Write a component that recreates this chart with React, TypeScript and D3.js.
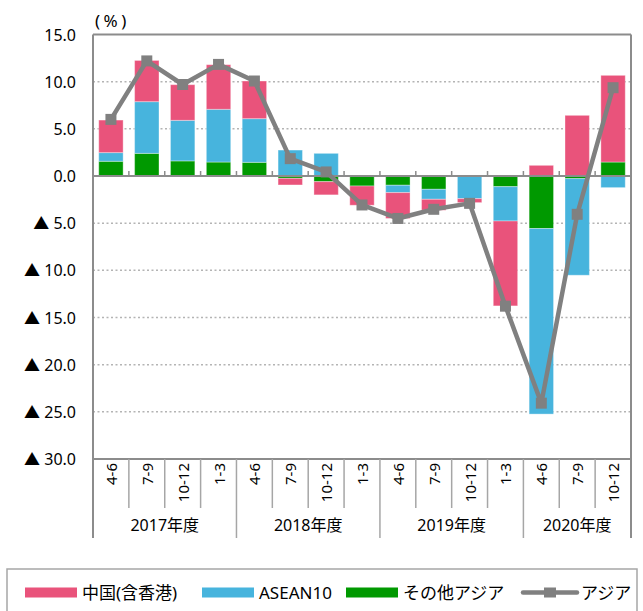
import * as d3 from 'd3'

// quarters shown on the x axis (fiscal year: Apr-Mar)
const quarters = ['4-6', '7-9', '10-12', '1-3', '4-6', '7-9', '10-12', '1-3', '4-6', '7-9', '10-12', '1-3', '4-6', '7-9', '10-12']
const fiscalYears = ['2017年度', '2018年度', '2019年度', '2020年度']
const quartersPerYear = [4, 4, 4, 3]

// contributions (% points)
const china = [3.45, 4.37, 3.78, 4.73, 3.99, -0.7, -1.4, -2.04, -2.74, -1.16, -0.42, -9.0, 1.13, 6.43, 9.19]
const asean = [0.92, 5.48, 4.3, 5.59, 4.63, 2.75, 2.4, 0, -0.78, -1.06, -2.4, -3.64, -19.67, -10.24, -1.23]
const otherAsia = [1.56, 2.4, 1.6, 1.48, 1.45, -0.25, -0.6, -1.06, -0.98, -1.41, 0, -1.13, -5.57, -0.28, 1.48]
// total Asia (%)
const asia = [6.0, 12.2, 9.7, 11.83, 10.07, 1.84, 0.43, -3.07, -4.5, -3.53, -2.9, -13.8, -24.08, -4.06, 9.36]

const yTicks = [15, 10, 5, 0, -5, -10, -15, -20, -25, -30]

const seriesKeys = ['other', 'asean', 'china']
const colors: Record<string, string> = {
  china: '#e9537b',
  asean: '#47b4dd',
  other: '#009900',
}
const lineColor = '#808080'
const axisColor = '#8c8c8c'
const font = '"Noto Sans", "Noto Sans CJK JP", sans-serif'

export default function App() {
  const W = 643
  const H = 611
  const left = 93
  const right = 631
  const top = 34.5
  const bottom = 459

  const x = d3.scaleBand<string>()
    .domain(quarters.map((_, i) => String(i)))
    .range([left, right])
    .paddingInner(0.32)
    .paddingOuter(0.16)
  const step = x.step()
  const cx = (i: number) => (x(String(i)) || 0) + x.bandwidth() / 2

  const y = d3.scaleLinear().domain([-30, 15]).range([bottom, top])

  const rows = quarters.map((_, i) => ({ other: otherAsia[i], asean: asean[i], china: china[i] }))
  const stacked = d3.stack<any>().keys(seriesKeys).offset(d3.stackOffsetDiverging)(rows)

  const line = d3.line<number>()
    .x((_, i) => cx(i))
    .y(d => y(d))

  const fmt = (v: number) => v < 0 ? `▲ ${Math.abs(v).toFixed(1)}` : v.toFixed(1)

  // year boundaries
  const yearStarts: number[] = []
  let acc = 0
  quartersPerYear.forEach(n => { yearStarts.push(acc); acc += n })
  const isYearBoundary = (i: number) => yearStarts.includes(i)

  const legendY = 592.5
  const ms = 11

  return (
    <div style={{ position: 'absolute', left: 0, top: 0 }}>
      <svg width={W} height={H} style={{ display: 'block', background: '#fff' }}>
        {/* unit */}
        <text x={95} y={20} fontFamily={font} fontSize={17} letterSpacing={3.5} dominantBaseline="central" fill="#000">(%)</text>

        {/* dotted gridlines */}
        {yTicks.filter(t => t !== 0 && t !== 15 && t !== -30).map(t => (
          <line key={t} x1={left} x2={right} y1={y(t)} y2={y(t)}
            stroke="#b4b4b4" strokeWidth={1.5} strokeDasharray="2,2.5" />
        ))}

        {/* y tick labels */}
        {yTicks.map(t => (
          <text key={t} x={76} y={y(t)} textAnchor="end" dominantBaseline="central"
            fontFamily={font} fontSize={16} fill="#000">{fmt(t)}</text>
        ))}

        {/* stacked bars */}
        {stacked.map(s => (
          <g key={s.key} fill={colors[s.key]}>
            {s.map((d, i) => {
              const h = y(d[0]) - y(d[1])
              if (Math.abs(h) < 0.01) return null
              return (
                <rect key={i} x={x(String(i))} y={Math.min(y(d[1]), y(d[0]))}
                  width={x.bandwidth()} height={Math.abs(h)}
                  stroke="#ffffff" strokeOpacity={0.35} strokeWidth={1} />
              )
            })}
          </g>
        ))}

        {/* zero axis */}
        <line x1={left} x2={right} y1={y(0)} y2={y(0)} stroke={axisColor} strokeWidth={2} />
        {quarters.map((_, i) => i === 0 ? null : (
          <line key={i} x1={left + i * step} x2={left + i * step} y1={y(0)} y2={y(0) - 5}
            stroke={axisColor} strokeWidth={1.5} />
        ))}

        {/* plot frame */}
        <line x1={left} x2={right} y1={top} y2={top} stroke={axisColor} strokeWidth={2} />
        <line x1={left} x2={right} y1={bottom} y2={bottom} stroke={axisColor} strokeWidth={2} />
        <line x1={left} x2={left} y1={top} y2={538} stroke={axisColor} strokeWidth={2} />
        <line x1={right} x2={right} y1={top} y2={538} stroke={axisColor} strokeWidth={2} />

        {/* category separators */}
        {quarters.map((_, i) => i === 0 ? null : (
          <line key={i} x1={left + i * step} x2={left + i * step} y1={bottom}
            y2={isYearBoundary(i) ? 538 : 508} stroke="#a6a6a6" strokeWidth={1.5} />
        ))}

        {/* quarter labels */}
        {quarters.map((q, i) => (
          <text key={i} transform={`translate(${cx(i)},463) rotate(-90)`} textAnchor="end"
            dominantBaseline="central" fontFamily={font} fontSize={15} fill="#000">{q}</text>
        ))}

        {/* fiscal year labels */}
        {fiscalYears.map((fy, k) => (
          <text key={fy} x={left + (yearStarts[k] + quartersPerYear[k] / 2) * step} y={525}
            textAnchor="middle" dominantBaseline="central" fontFamily={font} fontSize={16} fill="#000">{fy}</text>
        ))}

        {/* total line */}
        <path d={line(asia) || ''} fill="none" stroke={lineColor} strokeWidth={4.5} strokeLinejoin="round" />
        {asia.map((v, i) => (
          <rect key={i} x={cx(i) - ms / 2} y={y(v) - ms / 2} width={ms} height={ms} fill={lineColor} />
        ))}

        {/* legend */}
        <rect x={7} y={569} width={630} height={60} fill="none" stroke="#a6a6a6" strokeWidth={1.5} />
        <rect x={25} y={legendY - 5} width={52} height={10} fill={colors.china} />
        <text x={82} y={legendY} dominantBaseline="central" fontFamily={font} fontSize={17} fill="#000">中国(含香港)</text>
        <rect x={202} y={legendY - 5} width={52} height={10} fill={colors.asean} />
        <text x={259} y={legendY} dominantBaseline="central" fontFamily={font} fontSize={17} fill="#000">ASEAN10</text>
        <rect x={346} y={legendY - 5} width={52} height={10} fill={colors.other} />
        <text x={403} y={legendY} dominantBaseline="central" fontFamily={font} fontSize={17} fill="#000">その他アジア</text>
        <line x1={523} x2={577} y1={legendY} y2={legendY} stroke={lineColor} strokeWidth={4.5} strokeLinecap="round" />
        <rect x={550 - 6} y={legendY - 5} width={12} height={10} fill={lineColor} />
        <text x={581} y={legendY} dominantBaseline="central" fontFamily={font} fontSize={17} fill="#000">アジア</text>
      </svg>
    </div>
  )
}
